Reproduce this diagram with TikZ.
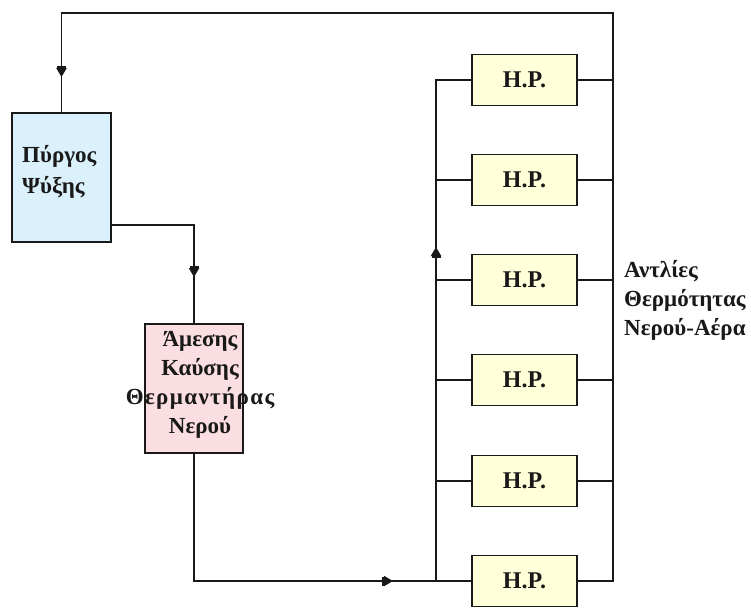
\documentclass[tikz,border=0pt]{standalone}
\usepackage{fontspec}
\setmainfont{Liberation Serif}
\usetikzlibrary{arrows.meta,decorations.markings}
\definecolor{towerblue}{RGB}{218,240,250}
\definecolor{heaterpink}{RGB}{250,222,226}
\definecolor{hpyellow}{RGB}{255,255,218}
\definecolor{ink}{RGB}{25,25,25}
\begin{document}
\begin{tikzpicture}[x=1pt,y=-1pt,
  line/.style={draw=ink,line width=1.8pt},
  box/.style={draw=ink,line width=1.8pt,inner sep=0pt},
  hpbox/.style={box,fill=hpyellow,minimum width=105pt,minimum height=51pt,
    font=\fontsize{24}{28}\selectfont\bfseries,text=ink},
  lbl/.style={font=\fontsize{23}{29}\selectfont\bfseries,text=ink,inner sep=0pt},
  midarrow/.style={postaction={decorate},decoration={markings,
    mark=at position #1 with {\arrow[ink]{Bar[width=9pt,line width=2pt] Triangle[width=10pt,length=9pt]}}}}
]
\useasboundingbox[fill=white] (0,0) rectangle (751,607);

% boxes
\node[box,fill=towerblue,minimum width=99pt,minimum height=129pt] (pyrgos) at (61.5,177.5) {};
\node[lbl,align=left,anchor=west,font=\fontsize{23}{31}\selectfont\bfseries] (pyrgostxt) at (22,172) {Πύργος\\Ψύξης};

\node[box,fill=heaterpink,minimum width=98pt,minimum height=129pt] (amesis) at (194,388.5) {};
\node[lbl,align=center] (amesistxt) at (200,385) {Άμεσης\\Καύσης\\{\addfontfeature{LetterSpace=6}Θερμαντήρας}\\Νερού};

\foreach \i/\y in {1/80,2/180,3/280,4/380,5/481,6/581}
  \node[hpbox] (hp\i) at (524.5,\y) {H.P.};

\node[lbl,align=left,anchor=west] (hplabel) at (624,300) {Αντλίες\\Θερμότητας\\Νερού-Αέρα};

% junction coordinates
\coordinate (tr) at (613,13);
\coordinate (bb) at (436,581);
\coordinate (pout) at (pyrgos.east |- 0,225);

% connectors
\draw[line,midarrow=-35pt] (hp6.east) -| (tr) -| (pyrgos.north);
\draw[line,midarrow=-46pt] (pout) -| (amesis.north);
\draw[line,midarrow=-43pt] (amesis.south) |- (bb);
\draw[line,midarrow=334pt] (bb) |- (hp1.west);
\draw[line] (bb) -- (hp6.west);
\foreach \i in {2,3,4,5}{
  \draw[line] (hp\i.west -| bb) -- (hp\i.west);
}
\foreach \i in {1,2,3,4,5}{
  \draw[line] (hp\i.east) -- (hp\i.east -| tr);
}
\end{tikzpicture}
\end{document}
